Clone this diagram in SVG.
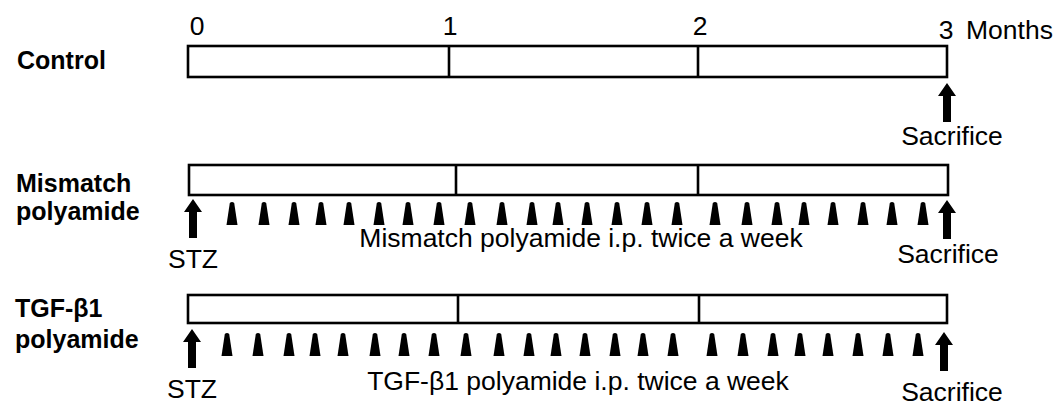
<svg xmlns="http://www.w3.org/2000/svg" width="1055" height="405" viewBox="0 0 1055 405">
<style>
.lbl{font-family:"Liberation Sans",Arial,sans-serif;font-weight:bold;font-size:25px;fill:#000}
.t{font-family:"Liberation Sans",Arial,sans-serif;font-size:26.5px;fill:#000}
.bar{fill:#fff;stroke:#000;stroke-width:2.6}
.div{stroke:#000;stroke-width:2.6}
.tri{fill:#000}
.arr{fill:#000}
</style>
<defs>
<path id="tri" d="M-5.5,23 L-2.2,1 Q0,-0.8 2.2,1 L5.5,23 Z"/>
<path id="up" d="M0,0 L9,13 L4,13 L4,39 L-4,39 L-4,13 L-9,13 Z"/>
</defs>
<rect width="1055" height="405" fill="#fff"/>

<g id="axis">
<text class="t" x="197" y="35" text-anchor="middle">0</text>
<text class="t" x="450" y="35" text-anchor="middle">1</text>
<text class="t" x="700" y="35" text-anchor="middle">2</text>
<text class="t" x="946" y="39" text-anchor="middle">3</text>
<text class="t" x="966" y="39">Months</text>
</g>

<g id="control">
<text class="lbl" x="17" y="69">Control</text>
<rect class="bar" x="188" y="46" width="759" height="31"/>
<line class="div" x1="449" y1="46" x2="449" y2="77"/>
<line class="div" x1="698" y1="46" x2="698" y2="77"/>
</g>

<g id="mismatch">
<text class="lbl" x="16" y="192">Mismatch</text>
<text class="lbl" x="16" y="220">polyamide</text>
<rect class="bar" x="189" y="165" width="759" height="30"/>
<line class="div" x1="456" y1="165" x2="456" y2="195"/>
<line class="div" x1="698" y1="165" x2="698" y2="195"/>
<text class="t" x="193" y="268" text-anchor="middle">STZ</text>
<text class="t" x="581" y="247" text-anchor="middle">Mismatch polyamide i.p. twice a week</text>
<text class="t" x="948" y="263" text-anchor="middle">Sacrifice</text>
</g>

<g id="tgf">
<text class="lbl" x="15" y="317">TGF-β1</text>
<text class="lbl" x="15" y="348">polyamide</text>
<rect class="bar" x="188" y="295" width="759" height="28"/>
<line class="div" x1="458" y1="295" x2="458" y2="323"/>
<line class="div" x1="699" y1="295" x2="699" y2="323"/>
<text class="t" x="192" y="398" text-anchor="middle">STZ</text>
<text class="t" x="578" y="390" text-anchor="middle">TGF-β1 polyamide i.p. twice a week</text>
<text class="t" x="952" y="401" text-anchor="middle">Sacrifice</text>
</g>

<g id="connectors">
<use href="#up" class="arr" x="947" y="83"/>
<text class="t" x="952" y="145" text-anchor="middle">Sacrifice</text>
<use href="#up" class="arr" x="193" y="199"/>
<use href="#up" class="arr" x="947" y="200"/>
<use href="#up" class="arr" x="192" y="329"/>
<use href="#up" class="arr" x="944" y="332"/>
<g class="tri">
<use href="#tri" x="232" y="202"/><use href="#tri" x="264" y="202"/><use href="#tri" x="294" y="202"/><use href="#tri" x="321" y="202"/>
<use href="#tri" x="349" y="202"/><use href="#tri" x="379" y="202"/><use href="#tri" x="408" y="202"/><use href="#tri" x="439" y="202"/>
<use href="#tri" x="470" y="202"/><use href="#tri" x="502" y="202"/><use href="#tri" x="532" y="202"/><use href="#tri" x="558" y="202"/>
<use href="#tri" x="587" y="202"/><use href="#tri" x="617" y="202"/><use href="#tri" x="647" y="202"/><use href="#tri" x="677" y="202"/>
<use href="#tri" x="715" y="202"/><use href="#tri" x="747" y="202"/><use href="#tri" x="777" y="202"/><use href="#tri" x="804" y="202"/>
<use href="#tri" x="833" y="202"/><use href="#tri" x="863" y="202"/><use href="#tri" x="892" y="202"/><use href="#tri" x="923" y="202"/>
</g>
<g class="tri">
<use href="#tri" x="227" y="333"/><use href="#tri" x="258" y="333"/><use href="#tri" x="289" y="333"/><use href="#tri" x="315" y="333"/>
<use href="#tri" x="343" y="333"/><use href="#tri" x="375" y="333"/><use href="#tri" x="404" y="333"/><use href="#tri" x="434" y="333"/>
<use href="#tri" x="466" y="333"/><use href="#tri" x="499" y="333"/><use href="#tri" x="529" y="333"/><use href="#tri" x="556" y="333"/>
<use href="#tri" x="585" y="333"/><use href="#tri" x="615" y="333"/><use href="#tri" x="643" y="333"/><use href="#tri" x="673" y="333"/>
<use href="#tri" x="712" y="333"/><use href="#tri" x="743" y="333"/><use href="#tri" x="773" y="333"/><use href="#tri" x="800" y="333"/>
<use href="#tri" x="828" y="333"/><use href="#tri" x="858" y="333"/><use href="#tri" x="888" y="333"/><use href="#tri" x="918" y="333"/>
</g>
</g>
</svg>
